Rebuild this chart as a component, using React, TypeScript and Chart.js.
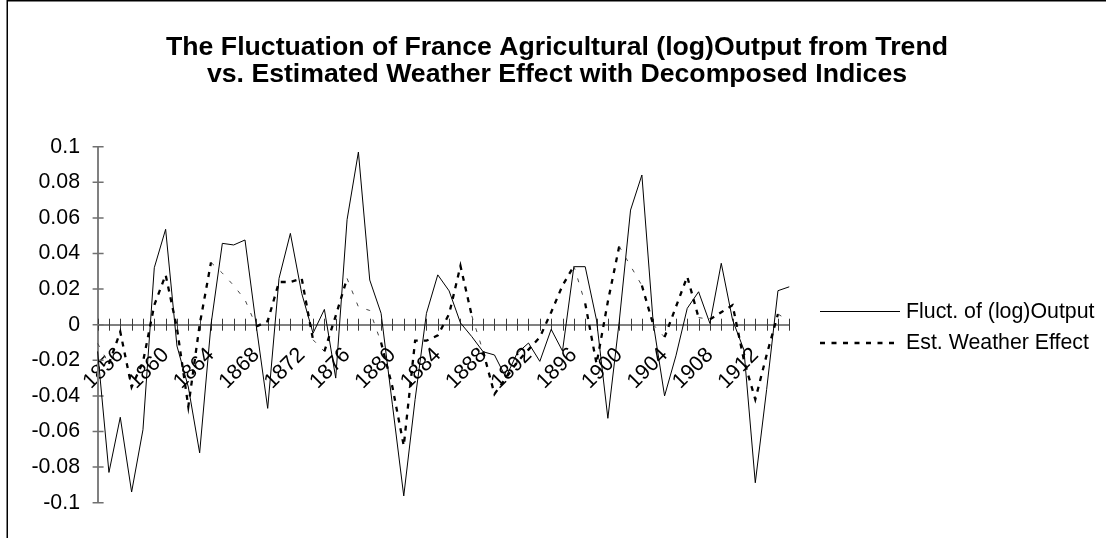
import React, { useEffect, useRef } from 'react';
import { Chart, registerables } from 'chart.js';

Chart.register(...registerables);

const FONT = '"Liberation Sans", Arial, Helvetica, sans-serif';

const titleLines = [
  'The Fluctuation of France Agricultural (log)Output from Trend',
  'vs. Estimated Weather Effect with Decomposed Indices',
];

const years = [
  1854, 1855, 1856, 1857, 1858, 1859, 1860, 1861, 1862, 1863,
  1864, 1865, 1866, 1867, 1868, 1869, 1870, 1871, 1872, 1873,
  1874, 1875, 1876, 1877, 1878, 1879, 1880, 1881, 1882, 1883,
  1884, 1885, 1886, 1887, 1888, 1889, 1890, 1891, 1892, 1893,
  1894, 1895, 1896, 1897, 1898, 1899, 1900, 1901, 1902, 1903,
  1904, 1905, 1906, 1907, 1908, 1909, 1910, 1911, 1912, 1913,
  1914, 1915,
];

const labeledYears = [1856, 1860, 1864, 1868, 1872, 1876, 1880, 1884, 1888, 1892, 1896, 1900, 1904, 1908, 1912];

const fluctOutput = [
  -0.015, -0.083, -0.052, -0.094, -0.059, 0.032, 0.0536, -0.012, -0.035, -0.072,
  0.0, 0.0457, 0.0448, 0.0476, -0.001, -0.047, 0.026, 0.0513, 0.0176, -0.0048,
  0.0086, -0.03, 0.059, 0.097, 0.0251, 0.0064, -0.045, -0.0962, -0.042, 0.0064,
  0.028, 0.019, 0.001, -0.0067, -0.0152, -0.017, -0.0296, -0.016, -0.0103, -0.0206,
  -0.0026, -0.0148, 0.0326, 0.0326, 0.0026, -0.0526, 0.0017, 0.0644, 0.0841, 0.001,
  -0.04, -0.0175, 0.0092, 0.0185, 0.0007, 0.0345, 0.0026, -0.0142, -0.0888, -0.0365,
  0.0191, 0.0213,
];

const weatherEffect = [
  -0.0105, -0.022, -0.004, -0.035, -0.021, 0.011, 0.028, -0.002, -0.046, 0.0,
  0.035, 0.029, 0.022, 0.014, -0.001, 0.002, 0.024, 0.024, 0.026, -0.0085,
  -0.015, 0.005, 0.026, 0.01, 0.008, -0.01, -0.035, -0.068, -0.009, -0.009,
  -0.006, 0.006, 0.033, 0.005, -0.015, -0.039, -0.03, -0.021, -0.014, -0.007,
  0.007, 0.022, 0.033, 0.012, -0.022, 0.013, 0.044, 0.033, 0.022, 0.0,
  -0.007, 0.01, 0.027, 0.004, 0.003, 0.007, 0.011, -0.02, -0.042, -0.017,
  0.006, 0.002,
];

const seriesNames = ['Fluct. of (log)Output', 'Est. Weather Effect'];

const yMin = -0.1;
const yMax = 0.1;
const yStep = 0.02;

function thinSeg(ctx: any) {
  const dx = ctx.p1.x - ctx.p0.x;
  const dy = ctx.p1.y - ctx.p0.y;
  return dy > 0 && dy / dx < 3.4;
}

const decor = {
  id: 'decor',
  beforeDatasetsDraw(chart: any) {
    const { ctx, scales } = chart;
    const x = scales.x;
    const y = scales.y;
    const y0 = y.getPixelForValue(0);
    ctx.save();
    ctx.strokeStyle = '#3a3a3a';
    ctx.lineWidth = 1;
    ctx.beginPath();
    for (let i = 0; i < x.ticks.length; i++) {
      const px = Math.round(x.getPixelForTick(i)) + 0.5;
      ctx.moveTo(px, y0 - 6);
      ctx.lineTo(px, y0 + 6);
    }
    ctx.stroke();
    ctx.strokeStyle = '#707070';
    ctx.lineWidth = 1.5;
    ctx.beginPath();
    const ax = chart.chartArea.left;
    for (let i = 0; i < y.ticks.length; i++) {
      const py = y.getPixelForTick(i);
      ctx.moveTo(ax - 5, py);
      ctx.lineTo(ax + 6, py);
    }
    ctx.stroke();
    ctx.restore();
  },
  afterDraw(chart: any) {
    const { ctx } = chart;
    ctx.save();
    // outer frame
    ctx.strokeStyle = '#000';
    ctx.lineWidth = 1.5;
    ctx.beginPath();
    ctx.moveTo(7.25, 600);
    ctx.lineTo(7.25, 0.75);
    ctx.lineTo(1200, 0.75);
    ctx.stroke();
    // title
    ctx.fillStyle = '#000';
    ctx.font = `bold 26.67px ${FONT}`;
    ctx.textAlign = 'center';
    ctx.textBaseline = 'alphabetic';
    ctx.fillText(titleLines[0], 557, 54.5);
    ctx.fillText(titleLines[1], 557, 81.5);
    // legend
    ctx.font = `21.33px ${FONT}`;
    ctx.textAlign = 'left';
    ctx.textBaseline = 'middle';
    ctx.strokeStyle = '#000';
    ctx.lineWidth = 1;
    ctx.beginPath();
    ctx.moveTo(820, 311.5);
    ctx.lineTo(900, 311.5);
    ctx.stroke();
    ctx.fillText(seriesNames[0], 906, 312);
    ctx.lineWidth = 2.5;
    ctx.setLineDash([5, 6.5]);
    ctx.beginPath();
    ctx.moveTo(820, 343);
    ctx.lineTo(900, 343);
    ctx.stroke();
    ctx.setLineDash([]);
    ctx.fillText(seriesNames[1], 906, 343);
    ctx.restore();
  },
};

export default function App() {
  const ref = useRef<HTMLCanvasElement>(null);
  useEffect(() => {
    document.body.style.margin = '0';
    const canvas = ref.current;
    if (!canvas) return;
    const chart = new Chart(canvas, {
      type: 'line',
      data: {
        labels: years.map(String),
        datasets: [
          {
            label: seriesNames[0],
            data: fluctOutput,
            borderColor: '#000',
            borderWidth: 1,
            pointRadius: 0,
            tension: 0,
            order: 2,
          },
          {
            label: seriesNames[1],
            data: weatherEffect,
            borderColor: '#000',
            borderWidth: 2.3,
            borderDash: [5, 6],
            pointRadius: 0,
            tension: 0,
            order: 1,
            segment: {
              borderWidth: (c: any) => (thinSeg(c) ? 1 : 2.3),
              borderDash: (c: any) => (thinSeg(c) ? [4, 9] : [5, 6]),
              borderColor: (c: any) => (thinSeg(c) ? '#444' : '#000'),
            },
          },
        ],
      },
      options: {
        responsive: false,
        animation: false,
        layout: { padding: { left: 0, right: 316.7, top: 146.7, bottom: 35.3 } },
        plugins: {
          legend: { display: false },
          title: { display: false },
          tooltip: { enabled: false },
        },
        scales: {
          x: {
            type: 'category',
            position: { y: 0 },
            offset: false,
            grid: { display: false, drawTicks: false },
            border: { display: true, color: '#808080', width: 2 },
            ticks: {
              autoSkip: false,
              maxRotation: 45,
              minRotation: 45,
              padding: 18,
              color: '#000',
              font: { family: FONT, size: 21.33 },
              callback: (_v: any, i: number) => (labeledYears.includes(years[i]) ? String(years[i]) : ''),
            },
          },
          y: {
            min: yMin,
            max: yMax,
            grid: { display: false, drawTicks: false },
            border: { display: true, color: '#808080', width: 2 },
            afterFit: (s: any) => {
              s.width = 97.6;
            },
            ticks: {
              stepSize: yStep,
              padding: 17.6,
              color: '#000',
              font: { family: FONT, size: 21.33 },
              callback: (v: any) => String(Number(Number(v).toFixed(2))),
            },
          },
        },
      },
      plugins: [decor],
    } as any);
    return () => chart.destroy();
  }, []);
  return (
    <canvas
      ref={ref}
      width={1106}
      height={538}
      style={{ display: 'block', width: 1106, height: 538 }}
    />
  );
}
